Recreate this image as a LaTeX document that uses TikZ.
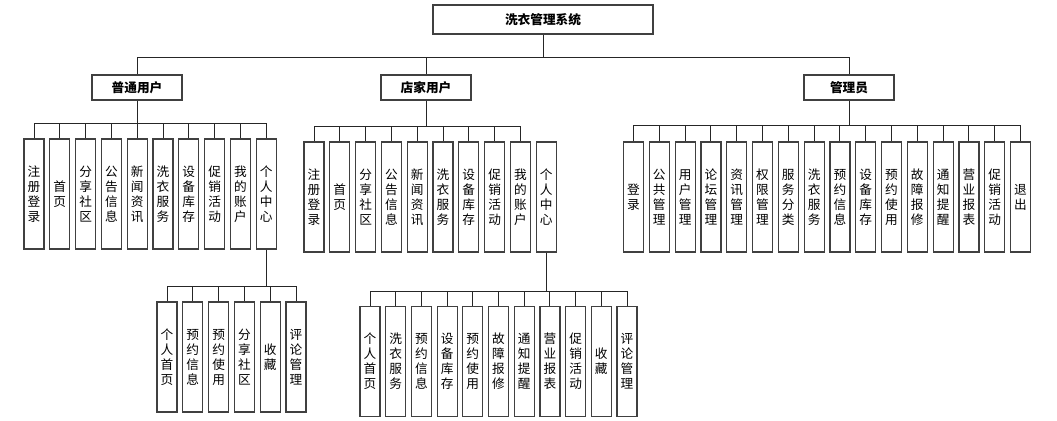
\documentclass[tikz,border=0pt]{standalone}
\usepackage{fontspec}
\setmainfont{Noto Sans CJK SC}
\usetikzlibrary{positioning}
\tikzset{
  box/.style={draw=black!75,line width=0.9pt,fill=white,inner sep=0pt,align=center,
    font=\fontsize{9.5}{11.25}\selectfont},
  rootbox/.style={box,minimum width=165pt,minimum height=21.75pt,font=\fontsize{9.5}{11}\selectfont\bfseries},
  headbox/.style={box,minimum width=67.5pt,minimum height=18.75pt,font=\fontsize{9.5}{11}\selectfont\bfseries},
  leaf/.style={box,minimum width=15pt,minimum height=82.5pt},
  link/.style={draw=black!85,line width=0.75pt}
}
\begin{document}
\begin{tikzpicture}[x=0.75pt,y=-0.75pt]
  \useasboundingbox (0,0) rectangle (1057,421);
  % top level
  \node[rootbox] (root) at (543,19.5) {洗衣管理系统};
  \node[headbox] (pu) at (137,87.5) {普通用户};
  \node[headbox] (su) at (426,87.5) {店家用户};
  \node[headbox] (ad) at (849,87.5) {管理员};
  \coordinate (rootbar) at (543,57);
  \draw[link] (root) -- (rootbar);
  \foreach \r in {pu,su,ad}
    \draw[link] (rootbar) -| (\r.north);

  % 普通用户
  \coordinate (pubar) at (137,123);
  \draw[link] (pu) -- (pubar);
  \foreach \t [count=\i] in {注\\册\\登\\录,首\\页,分\\享\\社\\区,公\\告\\信\\息,新\\闻\\资\\讯,
      洗\\衣\\服\\务,设\\备\\库\\存,促\\销\\活\\动,我\\的\\账\\户,个\\人\\中\\心} {
    \node[leaf] (pu\i) at ({34+25.8*(\i-1)},194) {\t};
    \draw[link] (pubar) -| (pu\i.north);
  }
  \coordinate (pcbar) at (pu10.south |- 0,286);
  \draw[link] (pu10) -- (pcbar);
  \foreach \t [count=\i] in {个\\人\\首\\页,预\\约\\信\\息,预\\约\\使\\用,分\\享\\社\\区,收\\藏,评\\论\\管\\理} {
    \node[leaf] (pc\i) at ({167+25.8*(\i-1)},357) {\t};
    \draw[link] (pcbar) -| (pc\i.north);
  }

  % 店家用户
  \coordinate (subar) at (426,126);
  \draw[link] (su) -- (subar);
  \foreach \t [count=\i] in {注\\册\\登\\录,首\\页,分\\享\\社\\区,公\\告\\信\\息,新\\闻\\资\\讯,
      洗\\衣\\服\\务,设\\备\\库\\存,促\\销\\活\\动,我\\的\\账\\户,个\\人\\中\\心}
    \node[leaf] (su\i) at ({314+25.8*(\i-1)},197) {\t};
  \foreach \i in {1,...,9}
    \draw[link] (subar) -| (su\i.north);
  \coordinate (scbar) at (su10.south |- 0,291);
  \draw[link] (su10) -- (scbar);
  \foreach \t [count=\i] in {个\\人\\首\\页,洗\\衣\\服\\务,预\\约\\信\\息,设\\备\\库\\存,预\\约\\使\\用,
      故\\障\\报\\修,通\\知\\提\\醒,营\\业\\报\\表,促\\销\\活\\动,收\\藏,评\\论\\管\\理} {
    \node[leaf] (sc\i) at ({370+25.7*(\i-1)},361.5) {\t};
    \draw[link] (scbar) -| (sc\i.north);
  }

  % 管理员
  \coordinate (adbar) at (849,125);
  \draw[link] (ad) -- (adbar);
  \foreach \t [count=\i] in {登\\录,公\\共\\管\\理,用\\户\\管\\理,论\\坛\\管\\理,资\\讯\\管\\理,
      权\\限\\管\\理,服\\务\\分\\类,洗\\衣\\服\\务,预\\约\\信\\息,设\\备\\库\\存,预\\约\\使\\用,
      故\\障\\报\\修,通\\知\\提\\醒,营\\业\\报\\表,促\\销\\活\\动,退\\出} {
    \node[leaf] (ad\i) at ({633.5+25.8*(\i-1)},197) {\t};
    \draw[link] (adbar) -| (ad\i.north);
  }
\end{tikzpicture}
\end{document}
